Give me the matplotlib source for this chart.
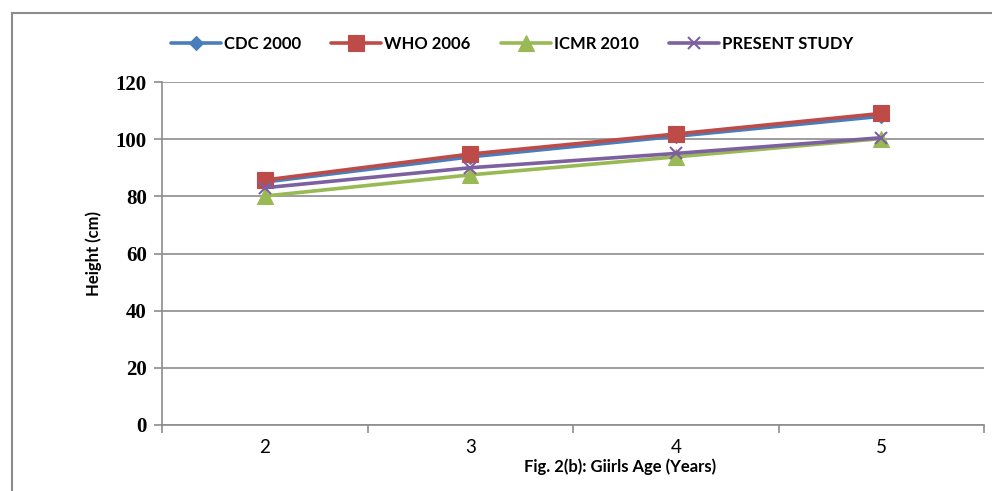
import matplotlib
matplotlib.use("Agg")
import matplotlib.pyplot as plt
from matplotlib.lines import Line2D

ages = [2, 3, 4, 5]
age_labels = ["2", "3", "4", "5"]
cdc_2000 = [85.0, 93.8, 101.0, 108.0]
who_2006 = [85.7, 94.8, 101.8, 109.0]
icmr_2010 = [80.1, 87.5, 93.8, 100.2]
present_study = [83.0, 90.0, 95.0, 100.5]
y_ticks = [0, 20, 40, 60, 80, 100, 120]

fig = plt.figure(figsize=(9.92, 4.91), dpi=100)
ax = fig.add_axes([162 / 992, 1 - 425 / 491, 822 / 992, 343 / 491])

series = [
    ("CDC 2000", cdc_2000, "#4a7ebb", "D", 7),
    ("WHO 2006", who_2006, "#be4b48", "s", 11),
    ("ICMR 2010", icmr_2010, "#98b954", "^", 11),
    ("PRESENT STUDY", present_study, "#7d60a0", "x", 9),
]
handles = []
for name, vals, col, mk, ms in series:
    h, = ax.plot(ages, vals, color=col, lw=2.6, marker=mk, markersize=ms,
                 markeredgecolor=col, markerfacecolor=col,
                 markeredgewidth=1.5 if mk == "x" else 0.8, label=name,
                 solid_capstyle="round")
    handles.append(h)

ax.set_xlim(1.5, 5.5)
ax.set_ylim(0, 120)
ax.set_yticks(y_ticks)
ax.set_yticklabels([str(v) for v in y_ticks],
                   fontfamily="Liberation Serif", fontweight="bold", fontsize=15)
ax.yaxis.grid(True, color="#8c8c8c", lw=1.2)
ax.set_axisbelow(True)

# category boundaries carry the ticks, category centres carry the labels
ax.set_xticks([1.5, 2.5, 3.5, 4.5, 5.5])
ax.set_xticklabels([])
ax.set_xticks(ages, minor=True)
ax.set_xticklabels(age_labels, minor=True, fontfamily="Lato", fontsize=13.5)
ax.tick_params(axis="x", which="minor", length=0, pad=10)
ax.tick_params(axis="x", which="major", length=6, color="#8c8c8c", width=1.2)
ax.tick_params(axis="y", length=6, color="#8c8c8c", width=1.2, pad=5)

for s in ["top", "right"]:
    ax.spines[s].set_visible(False)
for s in ["left", "bottom"]:
    ax.spines[s].set_color("#8c8c8c")
    ax.spines[s].set_linewidth(1.2)

ax.set_ylabel("Height (cm)", fontfamily="Lato", fontweight="bold",
              fontsize=12, labelpad=10)
fig.text(620 / 992, 1 - 467 / 491, "Fig. 2(b): Giirls Age (Years)",
         ha="center", va="center", fontfamily="Lato", fontweight="bold",
         fontsize=12)

fig.legend(handles=handles, loc="center", ncol=4,
           bbox_to_anchor=(512 / 992, 1 - 44 / 491), frameon=False,
           prop={"family": "Lato", "weight": "bold", "size": 12},
           handlelength=3.0, handletextpad=0.2, columnspacing=1.8)

# outer chart border
fx = 12 / 992
fy = 1 - 13 / 491
fig.add_artist(Line2D([fx, fx], [0, fy], transform=fig.transFigure,
                      color="#8c8c8c", lw=1.5))
fig.add_artist(Line2D([fx, 1], [fy, fy], transform=fig.transFigure,
                      color="#8c8c8c", lw=1.5))

fig.savefig("out.png", dpi=100)
